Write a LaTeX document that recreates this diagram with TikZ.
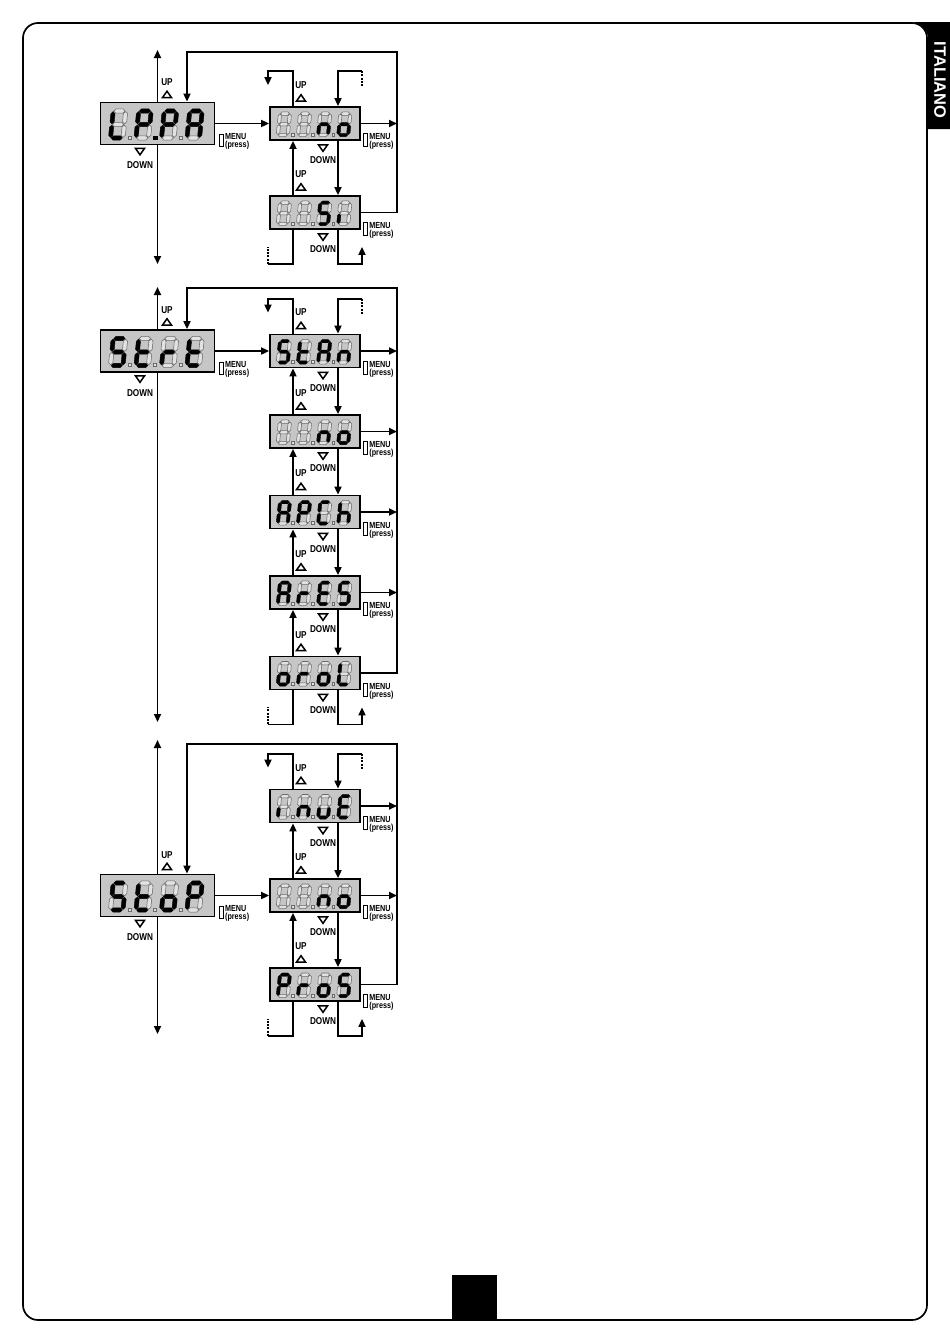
\documentclass[tikz,border=0pt]{standalone}
\usepackage{fontspec}
\newfontfamily\labfont{Liberation Sans}[FakeStretch=0.82]
\newfontfamily\tabfont{Liberation Sans}
\usetikzlibrary{arrows.meta,calc}
\definecolor{lcdbg}{HTML}{C6C6C6}
\definecolor{segoffc}{HTML}{E2E2E2}
\definecolor{segedge}{HTML}{6A6A6A}
\tikzset{
 ln/.style={line width=1.8pt},
 arr/.style={ln,-{Triangle[length=8pt,width=7pt]}},
 dashline/.style={line width=1.6pt,dash pattern=on 2pt off 1.3pt},
 bigbox/.style={draw,line width=1.8pt,fill=lcdbg,minimum width=114pt,minimum height=42pt,inner sep=0pt},
 smallbox/.style={draw,line width=1.8pt,fill=lcdbg,minimum width=90pt,minimum height=33pt,inner sep=0pt},
 segon/.style={fill=black,draw=black,line width=0.4pt},
 segoff/.style={fill=segoffc,draw=segedge,line width=0.55pt},
 udlab/.style={inner sep=0pt,font=\labfont\bfseries\fontsize{10}{11}\selectfont},
 menulab/.style={inner sep=0pt,anchor=west,font=\labfont\bfseries\fontsize{8.8}{9}\selectfont},
 uptri/.pic={\draw[line width=1.5pt] (-4.5,3) -- (4.5,3) -- (0,-3.4) -- cycle;},
 downtri/.pic={\draw[line width=1.5pt] (-4.5,-3) -- (4.5,-3) -- (0,3.4) -- cycle;},
}
% seven segment codes a b c d e f g
\def\dgB{0000000}
\def\dgL{0001110}
\def\dgP{1100111}
\def\dgA{1110111}
\def\dgn{0010101}
\def\dgo{0011101}
\def\dgS{1011011}
\def\dgi{0000100}
\def\dgt{0001111}
\def\dgr{0000101}
\def\dgC{1001110}
\def\dgh{0010111}
\def\dgE{1001111}
\def\dgu{0011100}
\def\segg{0.6}
\def\segh{2.1}
\newcommand\hsegp[4]{\filldraw[#1] (#2+\segg,#4) -- (#2+\segg+\segh,#4-\segh) -- (#3-\segg-\segh,#4-\segh) -- (#3-\segg,#4) -- (#3-\segg-\segh,#4+\segh) -- (#2+\segg+\segh,#4+\segh) -- cycle;}
\newcommand\vsegp[4]{\filldraw[#1] (#2,#3+\segg) -- (#2+\segh,#3+\segg+\segh) -- (#2+\segh,#4-\segg-\segh) -- (#2,#4-\segg) -- (#2-\segh,#4-\segg-\segh) -- (#2-\segh,#3+\segg+\segh) -- cycle;}
\newcommand\hseg[4]{\ifnum#1=1 \hsegp{segon}{#2}{#3}{#4}\else\hsegp{segoff}{#2}{#3}{#4}\fi}
\newcommand\vseg[4]{\ifnum#1=1 \vsegp{segon}{#2}{#3}{#4}\else\vsegp{segoff}{#2}{#3}{#4}\fi}
\def\dgparse#1#2#3#4#5#6#7\relax{%
 \hseg{#1}{0}{12.5}{-27}%
 \vseg{#2}{12.5}{-27}{-13.5}%
 \vseg{#3}{12.5}{-13.5}{0}%
 \hseg{#4}{0}{12.5}{0}%
 \vseg{#5}{0}{-13.5}{0}%
 \vseg{#6}{0}{-27}{-13.5}%
 \hseg{#7}{0}{12.5}{-13.5}}
\newcommand\dg[2]{\begin{scope}[shift={(-47+25.5*#1,14.5)},xslant=0.1]\expandafter\dgparse#2\relax\end{scope}}
\newcommand\lcddot[2]{\ifnum#2=1 \filldraw[segon] (-47+25.5*#1+19-1.7,12.3) rectangle ++(3.4,3.4);\else\filldraw[segoff] (-47+25.5*#1+19-1.7,12.3) rectangle ++(3.4,3.4);\fi}
\def\dotparse#1#2#3\relax{\lcddot{0}{#1}\lcddot{1}{#2}\lcddot{2}{#3}}
\newcommand\lcd[8]{\begin{scope}[shift={(#1,#2)},scale=#3]\dg{0}{#4}\dg{1}{#5}\dg{2}{#6}\dg{3}{#7}\dotparse#8\relax\end{scope}}
% labels
\newcommand\smalllabs[1]{%
 \node[udlab] (#1-up) at ($(#1.north -| xul)+(0,-21)$) {UP};
 \pic at ($(#1.north -| xul)+(0,-8)$) {uptri};
 \pic at ($(#1.south -| xdl)+(0,7)$) {downtri};
 \node[udlab] (#1-down) at ($(#1.south -| xdl)+(0,19.5)$) {DOWN};
 \draw[line width=1pt] ($(#1.east)+(2.8,10)$) rectangle ($(#1.east)+(6.6,23)$);
 \node[menulab] (#1-menu) at ($(#1.east)+(8.3,13.5)$) {MENU};
 \node[menulab] (#1-press) at ($(#1.east)+(8.3,21.8)$) {(press)};}
\newcommand\mainlabs[1]{%
 \node[udlab] (#1-up) at ($(#1.north)+(9.5,-19)$) {UP};
 \pic at ($(#1.north)+(9.5,-7)$) {uptri};
 \pic at ($(#1.south)+(-17.5,6)$) {downtri};
 \node[udlab] (#1-down) at ($(#1.south)+(-17.5,20)$) {DOWN};
 \draw[line width=1pt] ($(#1.east)+(4,11)$) rectangle ($(#1.east)+(7.8,23)$);
 \node[menulab] (#1-menu) at ($(#1.east)+(9.5,13.5)$) {MENU};
 \node[menulab] (#1-press) at ($(#1.east)+(9.5,21.8)$) {(press)};}
\newcommand\updn[2]{%
 \draw[arr] (#2.north -| xu) -- (#1.south -| xu);
 \draw[arr] (#1.south -| xd) -- (#2.north -| xd);}
\newcommand\topstub[1]{%
 \draw[arr] (#1.north -| xu) -- ++(0,-35) -| ($(#1.north -| xl)+(0,-21)$);
 \draw[arr] ($(#1.north -| xr)+(0,-35)$) -| (#1.north -| xd);
 \draw[dashline] ($(#1.north -| xr)+(0,-35)$) -- ++(0,16);}
\newcommand\botstub[1]{%
 \draw[ln] (#1.south -| xu) |- ($(#1.south -| xl)+(0,34)$);
 \draw[dashline] ($(#1.south -| xl)+(0,34)$) -- ++(0,-17);
 \draw[arr] (#1.south -| xd) |- ($(#1.south -| xr)+(0,34)$) -- ++(0,-17);}
\newcommand\rightarr[1]{\draw[arr] (#1.east) -- (#1.east -| xo);}
\newcommand\loopback[3]{\draw[arr] (#1.east) -| (397,#3) -| (#2.north -| xk);}
\begin{document}
\begin{tikzpicture}[x=1pt,y=-1pt]
\fill[white] (0,0) rectangle (950,1344);
\useasboundingbox (0,0) rectangle (950,1344);
% frame and tabs
\draw[line width=1.7pt,rounded corners=15pt] (23,23) rectangle (927,1320);
\fill[black] (911,22.1) .. controls (919.8,22.1) and (927.9,29.5) .. (927.9,38) -- (927.9,129) -- (950,129) -- (950,22.1) -- cycle;
\node[rotate=-90,text=white,inner sep=0pt,font=\tabfont\bfseries\fontsize{16.5}{17}\selectfont] (tabtext) at (940,80) {ITALIANO};
\fill[black] (452,1275) rectangle (497,1320);
% reference columns
\coordinate (xu) at (293,0);
\coordinate (xd) at (338,0);
\coordinate (xl) at (268,0);
\coordinate (xr) at (362,0);
\coordinate (xo) at (397,0);
\coordinate (xk) at (187,0);
\coordinate (xul) at (301,0);
\coordinate (xdl) at (323,0);

% ===== Block 1 =====
\node[bigbox] (m1) at (157.5,123.5) {};
\node[smallbox] (a1) at (315,123.5) {};
\node[smallbox] (a2) at (315,212.5) {};
\lcd{157.5}{123.5}{1}{\dgL}{\dgP}{\dgP}{\dgA}{010}
\lcd{315}{123.5}{0.79}{\dgB}{\dgB}{\dgn}{\dgo}{000}
\lcd{315}{212.5}{0.79}{\dgB}{\dgB}{\dgS}{\dgi}{000}
\coordinate (m1t) at (157.5,50);
\coordinate (m1b) at (157.5,264);
\draw[arr] (m1.north) -- (m1t);
\draw[arr] (m1.south) -- (m1b);
\draw[arr] (m1.east) -- (a1.west);
\loopback{a2}{m1}{52}
\rightarr{a1}
\updn{a1}{a2}
\topstub{a1}
\botstub{a2}
\mainlabs{m1}
\smalllabs{a1}
\smalllabs{a2}

% ===== Block 2 =====
\node[bigbox] (m2) at (157.5,351) {};
\node[smallbox] (b1) at (315,351) {};
\node[smallbox] (b2) at (315,431.5) {};
\node[smallbox] (b3) at (315,512) {};
\node[smallbox] (b4) at (315,592.5) {};
\node[smallbox] (b5) at (315,673) {};
\lcd{157.5}{351}{1}{\dgS}{\dgt}{\dgr}{\dgt}{000}
\lcd{315}{351}{0.79}{\dgS}{\dgt}{\dgA}{\dgn}{000}
\lcd{315}{431.5}{0.79}{\dgB}{\dgB}{\dgn}{\dgo}{000}
\lcd{315}{512}{0.79}{\dgA}{\dgP}{\dgC}{\dgh}{000}
\lcd{315}{592.5}{0.79}{\dgA}{\dgr}{\dgE}{\dgS}{000}
\lcd{315}{673}{0.79}{\dgo}{\dgr}{\dgo}{\dgL}{000}
\coordinate (m2t) at (157.5,287);
\coordinate (m2b) at (157.5,722);
\draw[arr] (m2.north) -- (m2t);
\draw[arr] (m2.south) -- (m2b);
\draw[arr] (m2.east) -- (b1.west);
\loopback{b5}{m2}{288}
\rightarr{b1}\rightarr{b2}\rightarr{b3}\rightarr{b4}
\updn{b1}{b2}\updn{b2}{b3}\updn{b3}{b4}\updn{b4}{b5}
\topstub{b1}
\botstub{b5}
\mainlabs{m2}
\smalllabs{b1}\smalllabs{b2}\smalllabs{b3}\smalllabs{b4}\smalllabs{b5}

% ===== Block 3 =====
\node[bigbox] (m3) at (157.5,895.5) {};
\node[smallbox] (c1) at (315,806) {};
\node[smallbox] (c2) at (315,895.5) {};
\node[smallbox] (c3) at (315,984.5) {};
\lcd{157.5}{895.5}{1}{\dgS}{\dgt}{\dgo}{\dgP}{000}
\lcd{315}{806}{0.79}{\dgi}{\dgn}{\dgu}{\dgE}{000}
\lcd{315}{895.5}{0.79}{\dgB}{\dgB}{\dgn}{\dgo}{000}
\lcd{315}{984.5}{0.79}{\dgP}{\dgr}{\dgo}{\dgS}{000}
\coordinate (m3t) at (157.5,740);
\coordinate (m3b) at (157.5,1034);
\draw[arr] (m3.north) -- (m3t);
\draw[arr] (m3.south) -- (m3b);
\draw[arr] (m3.east) -- (c2.west);
\loopback{c3}{m3}{744}
\rightarr{c1}\rightarr{c2}
\updn{c1}{c2}\updn{c2}{c3}
\topstub{c1}
\botstub{c3}
\mainlabs{m3}
\smalllabs{c1}\smalllabs{c2}\smalllabs{c3}
\end{tikzpicture}
\end{document}
